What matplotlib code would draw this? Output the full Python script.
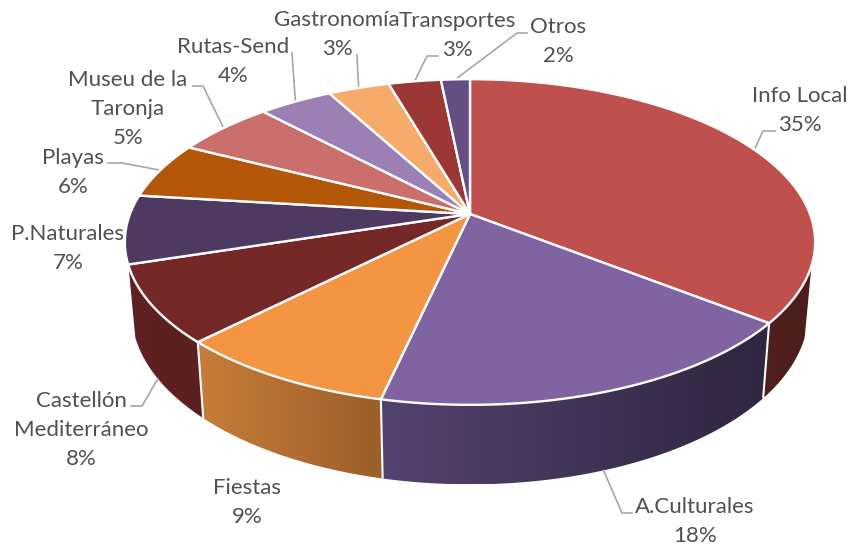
import numpy as np
import matplotlib
matplotlib.use("Agg")
import matplotlib.pyplot as plt
from matplotlib.colors import LinearSegmentedColormap
from matplotlib.patches import Polygon

categories = ["Info Local", "A.Culturales", "Fiestas", "Castellón\nMediterráneo", "P.Naturales",
              "Playas", "Museu de la\nTaronja", "Rutas-Send", "Gastronomía", "Transportes", "Otros"]
# shares, printed labels are the rounded ones from the chart
shares = [35.6, 17.9, 8.9, 7.7, 6.8, 5.6, 5.5, 4.1, 3.4, 2.9, 1.6]
pct_labels = ["35%", "18%", "9%", "8%", "7%", "6%", "5%", "4%", "3%", "3%", "2%"]

colors = ["#c0504d", "#8064a2", "#f39543", "#752828", "#4e3a60", "#b45708",
          "#ca6f6c", "#9a80b3", "#f6ab6b", "#9b3835", "#644e84"]
side_colors = {0: ("#4f201e", "#4b1d1b"), 1: ("#544270", "#2f2640"),
               2: ("#c77d39", "#9c5f2b"), 3: ("#5f2120", "#5c2020")}

# perspective of the disc, in pixels
CX, CY = 470, 214
A, B, K = 340, 158, 0.172
SHRINK, DEPTH = 0.98, 69
SIDE_FROM, SIDE_TO = 108, 252

# label centres and leader line bends, in pixels
label_pos = [(800, 110.5), (695, 521.5), (247, 502.5), (81, 430), (68, 248.5), (73, 172.5),
             (128, 109), (233, 61.5), (337, 34.5), (457, 35.5), (558, 41.5)]
leaders = {0: [(763, 131), (775, 131)], 1: [(622, 513), (632, 513)], 3: [(142, 406), (131, 406)],
           5: [(122, 163), (108, 163)], 6: [(203, 86), (193, 86)], 7: [(292, 53)],
           8: [(357, 55)], 9: [(427, 56), (438, 56)], 10: [(517, 33), (527, 33)]}


def project(deg, bottom=False):
    """Angulo (horario desde arriba) a pixeles de la imagen."""
    t = np.radians(deg)
    u, v = np.sin(t), np.cos(t)
    w = 1 + K * v
    s = SHRINK if bottom else 1.0
    x = CX + s * A * u / w
    y = CY - s * B * v / w + (DEPTH / w if bottom else 0)
    return x, y


fig = plt.figure(figsize=(8.5, 5.48), dpi=100)
ax = fig.add_axes([0, 0, 1, 1])

edges = np.concatenate([[0], np.cumsum(shares)]) / sum(shares) * 360

# side wall
for i, (c0, c1) in side_colors.items():
    start, end = max(edges[i], SIDE_FROM), min(edges[i + 1], SIDE_TO)
    arc = np.linspace(start, end, 80)
    xt, yt = project(arc)
    xb, yb = project(arc[::-1], bottom=True)
    pts = np.column_stack([np.r_[xt, xb], np.r_[yt, yb]])
    poly = Polygon(pts, closed=True, facecolor="none", edgecolor="none")
    ax.add_patch(poly)
    cmap = LinearSegmentedColormap.from_list("side", [c0, c1])
    im = ax.imshow(np.linspace(0, 1, 256)[None, :], cmap=cmap, aspect="auto", zorder=1,
                   extent=[pts[:, 0].min(), pts[:, 0].max(), pts[:, 1].max(), pts[:, 1].min()])
    im.set_clip_path(poly)

for deg in edges[1:4]:
    xt, yt = project(deg)
    xb, yb = project(deg, bottom=True)
    ax.plot([xt, xb], [yt, yb], color="white", lw=1.5, zorder=2, solid_capstyle="butt")

# top face
for i, c in enumerate(colors):
    arc = np.linspace(edges[i], edges[i + 1], 120)
    x, y = project(arc)
    pts = np.column_stack([np.r_[CX, x], np.r_[CY, y]])
    ax.add_patch(Polygon(pts, closed=True, facecolor=c, edgecolor="white", lw=1.7,
                         joinstyle="round", zorder=3))

# leader lines, they start at the middle of the wedge rim
for i, bends in leaders.items():
    mid = (edges[i] + edges[i + 1]) / 2
    sx, sy = project(mid, bottom=SIDE_FROM < mid < SIDE_TO)
    xs = [sx] + [p[0] for p in bends]
    ys = [sy] + [p[1] for p in bends]
    ax.plot(xs, ys, color="#a6a6a6", lw=1.2, zorder=2)

for name, pct, (x, y) in zip(categories, pct_labels, label_pos):
    ax.text(x, y, name + "\n" + pct, ha="center", va="center", family="Lato",
            fontsize=16, color="#505050", linespacing=1.57, zorder=5)

ax.set_xlim(0, 850)
ax.set_ylim(548, 0)
ax.axis("off")

fig.savefig("out.png", dpi=100, facecolor="white")
plt.close(fig)
